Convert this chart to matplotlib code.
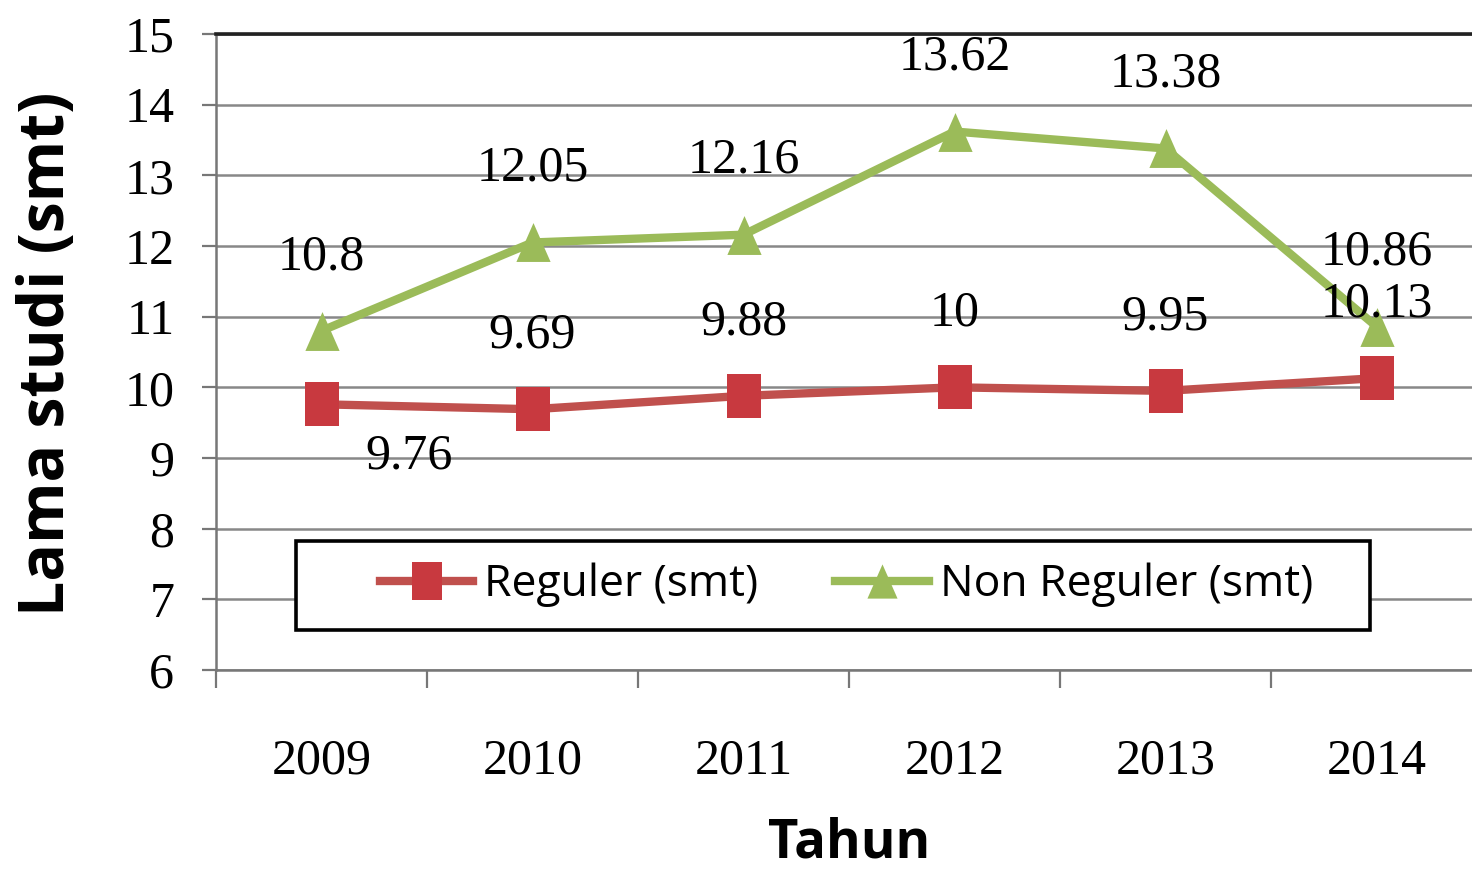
import matplotlib
matplotlib.use("Agg")
import matplotlib.pyplot as plt
from matplotlib import font_manager
from matplotlib.patches import Rectangle

years = ["2009", "2010", "2011", "2012", "2013", "2014"]
reguler = [9.76, 9.69, 9.88, 10, 9.95, 10.13]
non_reguler = [10.8, 12.05, 12.16, 13.62, 13.38, 10.86]
reguler_labels = ["9.76", "9.69", "9.88", "10", "9.95", "10.13"]
non_reguler_labels = ["10.8", "12.05", "12.16", "13.62", "13.38", "10.86"]
yticks = [6, 7, 8, 9, 10, 11, 12, 13, 14, 15]

RED = "#C0504D"
RED_MK = "#C8393F"
GREEN = "#9BBB59"
serif = ["Liberation Serif", "DejaVu Serif"]

def has_font(name):
    try:
        font_manager.findfont(font_manager.FontProperties(family=name), fallback_to_default=False)
        return True
    except Exception:
        return False

if has_font("Liberation Sans Narrow"):
    narrow = ["Liberation Sans Narrow", "DejaVu Sans"]
    leg_size, tahun_size = 40, 46
else:
    narrow = ["Open Sans", "DejaVu Sans"]
    leg_size, tahun_size = 32, 38
ylab_font = ["Open Sans", "DejaVu Sans"]

fig = plt.figure(figsize=(14.72, 8.72), dpi=100)
ax = fig.add_axes([216/1472, 1-670/872, 1266/1472, 636/872])

rect_marker = [(-0.4, -0.5), (0.4, -0.5), (0.4, 0.5), (-0.4, 0.5), (-0.4, -0.5)]
tri_marker = [(-0.44, -0.5), (0.44, -0.5), (0.0, 0.5), (-0.44, -0.5)]

x = list(range(len(years)))
ax.plot(x, reguler, color=RED, lw=6, marker=rect_marker, ms=31, mfc=RED_MK, mec=RED_MK,
        mew=0, label="Reguler (smt)", zorder=3, clip_on=False)
ax.plot(x, non_reguler, color=GREEN, lw=6, marker=tri_marker, ms=28, mfc=GREEN, mec=GREEN,
        mew=0, label="Non Reguler (smt)", zorder=3, clip_on=False)

ax.set_xlim(-0.5, len(years) - 0.5)
ax.set_ylim(6, 15)
ax.set_yticks(yticks)
ax.set_yticklabels([str(t) for t in yticks], fontfamily=serif, fontsize=36)
ax.set_xticks(x)
ax.set_xticklabels(years, fontfamily=serif, fontsize=36)
ax.set_xticks([i - 0.5 for i in range(len(years) + 1)], minor=True)
ax.tick_params(axis="x", which="major", length=0, pad=49)
ax.tick_params(axis="x", which="minor", length=13, width=1.6, color="#777777", direction="out")
ax.tick_params(axis="y", length=10, width=1.6, color="#777777", direction="out", pad=20)

ax.grid(axis="y", color="#888888", lw=1.8, zorder=0)
for s in ["left", "bottom"]:
    ax.spines[s].set_color("#777777")
    ax.spines[s].set_linewidth(1.8)
ax.spines["top"].set_color("#222222")
ax.spines["top"].set_linewidth(2.6)
ax.spines["right"].set_visible(False)

for i, (v, t) in enumerate(zip(non_reguler, non_reguler_labels)):
    ax.annotate(t, (i, v), xytext=(0, 74), textcoords="offset pixels",
                ha="center", va="center", fontfamily=serif, fontsize=36, zorder=4)
for i, (v, t) in enumerate(zip(reguler, reguler_labels)):
    off = (88, -52) if i == 0 else (0, 74)
    ax.annotate(t, (i, v), xytext=off, textcoords="offset pixels",
                ha="center", va="center", fontfamily=serif, fontsize=36, zorder=4)

fig.text(48/1472, 1-354/872, "Lama studi (smt)", fontfamily=ylab_font, fontsize=45,
         fontweight="bold", rotation=90, ha="center", va="center")
fig.text(849/1472, 1-843/872, "Tahun", fontfamily=narrow, fontsize=tahun_size, fontweight="bold",
         ha="center", va="center")

# legend box
ax.add_patch(Rectangle((296/1472, 1-630/872), (1370-296)/1472, (630-541)/872,
                       transform=fig.transFigure, facecolor="white", edgecolor="black",
                       lw=2.6, zorder=6, clip_on=False))
leg = ax.legend(loc="center left", bbox_to_anchor=(380/1472, 1-585/872), bbox_transform=fig.transFigure,
                ncol=2, frameon=False, prop={"family": narrow, "size": leg_size},
                handlelength=2.1, handletextpad=0.25, columnspacing=1.73, borderpad=0,
                borderaxespad=0, markerscale=0.88)
leg.set_zorder(7)

fig.savefig("out.png", dpi=100)
